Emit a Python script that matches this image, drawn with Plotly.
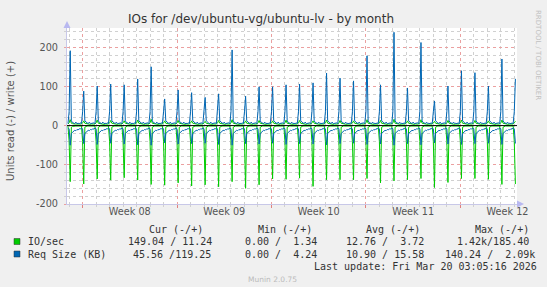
import pandas as pd
import plotly.graph_objects as go

# ---------------- data ----------------
# one activity burst per day at ~02:00
spike_days = pd.date_range("2026-02-15 02:00", "2026-03-20 02:00", freq="D")

write_req_peak = [191, 88, 101, 106, 104, 119, 150, 68, 91, 84, 72, 81, 193, 75, 99, 99, 104,
                  106, 109, 134, 121, 114, 178, 104, 238, 96, 212, 63, 101, 140, 135, 101, 170, 119.25]
read_io_peak = [143, 149, 136, 139, 133, 139, 150, 152, 146, 154, 151, 156, 143, 160, 151, 136, 137,
                134, 155, 138, 138, 138, 135, 146, 141, 138, 135, 158, 145, 135, 135, 137, 150, 149.04]
read_req_dip = [50, 46, 48, 45, 47, 49, 50, 44, 47, 46, 45, 48, 50, 46, 47, 45, 48,
                46, 47, 49, 46, 45, 48, 47, 50, 46, 49, 44, 47, 48, 46, 45, 48, 45.56]
write_io_peak = [15, 12, 14, 13, 12, 14, 16, 12, 13, 12, 11, 13, 15, 12, 13, 12, 14,
                 13, 12, 14, 13, 12, 15, 13, 16, 12, 15, 11, 13, 14, 13, 12, 14, 11.24]

# 2-hourly values after each burst (04:00 .. 22:00)
read_req_after = [20, 17, 15, 12, 13, 10, 11, 8, 9, 6]
write_req_after = [12, 8, 7, 5, 9, 5, 6, 5, 7, 5]
write_io_after = [6, 5, 4, 4, 4, 3, 4, 4, 3, 4]
read_io_after = [4, 2, 1, 1, 1, 1, 1, 1, 1, 1]
# value just before each burst (00:00)
shoulder = {"read_io": 40, "write_io": 7, "read_req": 8, "write_req": 35}
lead = {"read_io": 1, "write_io": 4, "read_req": 6, "write_req": 5}

week_labels = ["Week 08", "Week 09", "Week 10", "Week 11", "Week 12"]
week_label_pos = ["2026-02-19 12:00", "2026-02-26 12:00", "2026-03-05 12:00",
                  "2026-03-12 12:00", "2026-03-19 12:00"]
y_ticks = [200, 100, 0, -100, -200]
y_ticktext = ["200", "100", "0", "-100", "-200"]

# ---------------- build series ----------------
t = [spike_days[0] - pd.Timedelta(hours=4)]
s = {k: [v] for k, v in lead.items()}
two_h = pd.Timedelta(hours=2)
for i, day in enumerate(spike_days):
    t.append(day - two_h)
    for k in s:
        s[k].append(shoulder[k])
    t.append(day)
    s["read_io"].append(read_io_peak[i])
    s["write_io"].append(write_io_peak[i])
    s["read_req"].append(read_req_dip[i])
    s["write_req"].append(write_req_peak[i])
    if i < len(spike_days) - 1:
        for k in range(10):
            t.append(day + two_h * (k + 1))
            s["read_io"].append(read_io_after[k])
            s["write_io"].append(write_io_after[k])
            s["read_req"].append(read_req_after[k])
            s["write_req"].append(write_req_after[k])

GREEN = "#00CC00"
BLUE = "#0066B3"

fig = go.Figure()
fig.add_trace(go.Scatter(x=t, y=[-v for v in s["read_io"]], mode="lines", line=dict(color=GREEN, width=1)))
fig.add_trace(go.Scatter(x=t, y=s["write_io"], mode="lines", line=dict(color=GREEN, width=1)))
fig.add_trace(go.Scatter(x=t, y=[-v for v in s["read_req"]], mode="lines", line=dict(color=BLUE, width=1)))
fig.add_trace(go.Scatter(x=t, y=s["write_req"], mode="lines", line=dict(color=BLUE, width=1)))
fig.add_trace(go.Scatter(x=[t[0]], y=[0], xaxis="x2", mode="markers", marker=dict(opacity=0), hoverinfo="skip"))

L, R, T, B = 67, 30, 28, 83
W, H = 547, 287
PW, PH = W - L - R, H - T - B


def px(p):
    return (p - L) / PW


def py(p):
    return (H - B - p) / PH


x_range = ["2026-02-14 20:15", "2026-03-20 04:50"]
DAY = 86400000
MINOR_C = "#D0D0D0"
MAJOR_C = "#EBA0A0"
AX_C = "#C8C8E8"
TXT = "#555555"

fig.update_layout(
    width=W, height=H, autosize=False,
    margin=dict(l=L, r=R, t=T, b=B, pad=0),
    paper_bgcolor="#F0F0F0", plot_bgcolor="#FFFFFF",
    showlegend=False,
    font=dict(family="DejaVu Sans", size=10, color=TXT),
    xaxis=dict(type="date", range=x_range, tick0="2026-02-16", dtick=7 * DAY,
               showgrid=True, gridcolor=MAJOR_C, griddash="dot", gridwidth=1,
               showticklabels=False, ticks="outside", ticklen=3, tickcolor="#E08080",
               showline=True, linecolor=AX_C, linewidth=1, zeroline=False,
               minor=dict(tick0="2026-02-16", dtick=DAY, showgrid=True, gridcolor=MINOR_C,
                          griddash="dot", ticks="outside", ticklen=2, tickcolor=MINOR_C)),
    xaxis2=dict(type="date", range=x_range, overlaying="x", anchor="y", side="bottom",
                tickmode="array", tickvals=week_label_pos, ticktext=week_labels,
                showgrid=False, ticks="", showline=False, zeroline=False,
                tickfont=dict(size=9.7, color=TXT)),
    yaxis=dict(range=[-200, 249], tickmode="array", tickvals=y_ticks, ticktext=y_ticktext,
               showgrid=True, gridcolor=MAJOR_C, griddash="dot", gridwidth=1,
               ticks="outside", ticklen=2, tickcolor=MAJOR_C, ticklabelstandoff=4,
               showline=True, linecolor=AX_C, linewidth=1, zeroline=False,
               tickfont=dict(size=9.7, color=TXT),
               minor=dict(tick0=0, dtick=20, showgrid=True, gridcolor=MINOR_C, griddash="dot",
                          ticks="outside", ticklen=2, tickcolor=MINOR_C)),
)

shapes = [
    dict(type="line", xref="paper", yref="y", x0=0, x1=1, y0=0, y1=0,
         line=dict(color="#000000", width=1), layer="above"),
    dict(type="path", xref="paper", yref="paper",
         path=f"M {px(63.5)} {py(28)} L {px(70.5)} {py(28)} L {px(67)} {py(21)} Z",
         fillcolor="#B8B8F0", line=dict(width=0)),
    dict(type="path", xref="paper", yref="paper",
         path=f"M {px(517)} {py(200.5)} L {px(517)} {py(207.5)} L {px(524)} {py(204)} Z",
         fillcolor="#B8B8F0", line=dict(width=0)),
    dict(type="rect", xref="paper", yref="paper", x0=px(14), x1=px(20), y0=py(244.5), y1=py(238.5),
         fillcolor=GREEN, line=dict(color="#333333", width=0.5)),
    dict(type="rect", xref="paper", yref="paper", x0=px(14), x1=px(20), y0=py(257), y1=py(251),
         fillcolor=BLUE, line=dict(color="#333333", width=0.5)),
]
fig.update_layout(shapes=shapes)

MONO = "DejaVu Sans Mono"
ann = []


def text(x, y, s_, size=10, color="#333333", family=MONO, xanchor="left", angle=0):
    ann.append(dict(x=px(x), y=py(y), xref="paper", yref="paper", text=s_.replace(" ", "\u00a0"),
                    showarrow=False, xanchor=xanchor, yanchor="middle", textangle=angle,
                    font=dict(family=family, size=size, color=color)))


text(260.5, 19, "IOs for /dev/ubuntu-vg/ubuntu-lv - by month", size=12, color="#333333",
     family="DejaVu Sans", xanchor="center")
text(11, 121, "Units read (-) / write (+)", size=10, color=TXT, family="DejaVu Sans",
     xanchor="center", angle=-90)
text(538, 55, "RRDTOOL / TOBI OETIKER", size=7, color="#C0C0C0", family="DejaVu Sans",
     xanchor="center", angle=90)

text(146.5, 229, "Cur (-/+)")
text(255.8, 229, "Min (-/+)")
text(364, 229, "Avg (-/+)")
text(472.8, 229, "Max (-/+)")

text(26.2, 241.5, "IO/sec")
text(125.6, 241.5, "149.04 / 11.24")
text(243, 241.5, "0.00 /  1.34")
text(343.7, 241.5, "12.76 /  3.72")
text(454.6, 241.5, "1.42k/185.40")

text(26.2, 254, "Req Size (KB)")
text(130.8, 254, "45.56 /119.25")
text(243, 254, "0.00 /  4.24")
text(343.7, 254, "10.90 / 15.58")
text(443, 254, "140.24 /  2.09k")

text(311.6, 266.3, "Last update: Fri Mar 20 03:05:16 2026")
text(272.5, 279.5, "Munin 2.0.75", size=7.5, color="#BBBBBB", family="DejaVu Sans", xanchor="center")

fig.update_layout(annotations=ann)

fig.write_html("out.html")
